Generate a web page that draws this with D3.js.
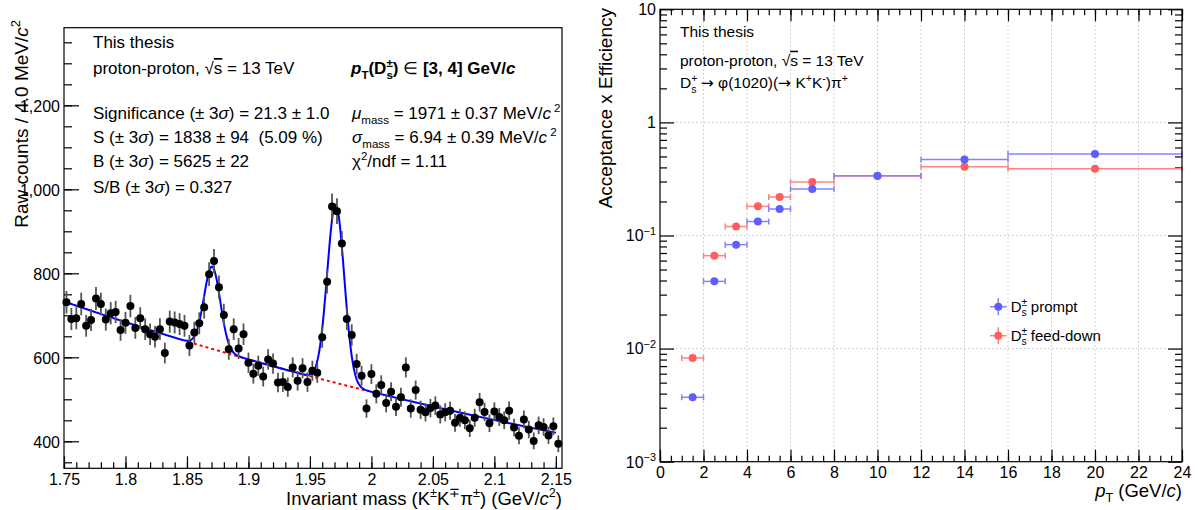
<!doctype html>
<meta charset='utf-8' />
<script src='https://cdn.jsdelivr.net/npm/d3@7'></script>
<style>
    body { margin: 0; background: #fff; }
    text { font-family: 'Liberation Sans', Arial, sans-serif; white-space: pre; }
</style>
<svg></svg>
<script>
    var width = 1198,
        height = 510,
        FONT = "'Liberation Sans', Arial, sans-serif",
        tickFont = 16

    // ---- left: invariant mass, 4 MeV bins starting at 1.75 GeV/c2
    var binLow = 1.75, binWidth = 0.004
    var counts = [
        731, 691, 693, 727, 675, 689, 740, 727, 690, 705,
        708, 665, 682, 722, 670, 693, 667, 655, 649, 667,
        610, 685, 683, 679, 675, 628, 659, 681, 719, 798,
        829, 767, 701, 619, 667, 621, 655, 587, 561, 580,
        554, 595, 585, 540, 541, 529, 576, 544, 574, 541,
        568, 563, 648, 780, 959, 948, 871, 691, 653, 584,
        556, 478, 560, 513, 534, 491, 518, 482, 505, 576,
        478, 522, 475, 469, 479, 485, 464, 469, 473, 444,
        456, 450, 431, 456, 493, 470, 443, 471, 458, 450,
        473, 433, 413, 452, 428, 401, 438, 434, 414, 436,
        394
    ]
    // fit: exponential background + two gaussians (D+ and Ds)
    var bkgPars = [733, -1.39]
    var peakPars = [[196, 1.8705, 0.0066], [424, 1.971, 0.00694]]
    var massTicks = [1.75, 1.8, 1.85, 1.9, 1.95, 2, 2.05, 2.1, 2.15]
    var countTicks = [400, 600, 800, 1000, 1200]

    // ---- right: acceptance x efficiency vs pT
    var ptEdges = [1, 2, 3, 4, 5, 6, 8, 12, 16, 24]
    var effPrompt = [0.00371, 0.0393, 0.083, 0.133, 0.1715, 0.258, 0.338, 0.471, 0.526]
    var effFeedDown = [0.00826, 0.0663, 0.120, 0.181, 0.219, 0.297, 0.336, 0.406, 0.390]
    var ptTicks = [0, 2, 4, 6, 8, 10, 12, 14, 16, 18, 20, 22, 24]
    var effDecades = [-3, -2, -1, 0, 1]

    var svg = d3.select('svg')
        .attr('width', width)
        .attr('height', height)
        .style('display', 'block')

    svg.append('rect').attr('width', width).attr('height', height).attr('fill', '#fff')

    // ROOT-ish latex: parts are strings or {t, sup, sub, it, back, over, ff}
    function rich(parent, x, y, size, parts, o) {
        o = o || {}
        var t = parent.append('text')
            .attr('x', x).attr('y', y)
            .attr('font-size', size)
            .attr('fill', '#000')
            .attr('text-anchor', o.anchor || 'start')
            .attr('font-weight', o.bold ? 'bold' : null)
        if (o.rotate) t.attr('transform', 'rotate(-90,' + x + ',' + y + ')')
        var cur = 0, prev = null
        parts.forEach(function (p) {
            if (typeof p === 'string') p = { t: p }
            var lvl = p.sup ? -0.42 * size : p.sub ? 0.28 * size : 0
            var s = t.append('tspan').attr('dy', lvl - cur).text(p.t)
            if (p.sup || p.sub) s.attr('font-size', size * 0.68)
            if (p.it) s.attr('font-style', 'italic')
            if (p.nb) s.attr('font-weight', 'normal')
            if (p.ff) s.style('font-family', p.ff)
            if (p.over) s.style('text-decoration', 'overline')
            if (p.back && prev) s.attr('dx', -prev.node().getComputedTextLength())
            cur = lvl
            prev = s
        })
        return t
    }

    function styleAxis(g) {
        g.select('.domain').remove()
        g.attr('font-family', FONT).attr('font-size', tickFont)
        g.selectAll('line').attr('stroke', '#000').attr('stroke-width', 1.2)
        g.selectAll('text').attr('fill', '#000')
    }

    // ================= left panel =================
    var L = { x0: 64, x1: 562, y0: 27.7, y1: 468.3 }
    var xL = d3.scaleLinear().domain([1.75, 2.155]).range([L.x0, L.x1])
    var yL = d3.scaleLinear().domain([335.7, 1384.8]).range([L.y1, L.y0])

    var left = svg.append('g')

    left.append('g').attr('transform', 'translate(' + L.x0 + ',0)')
        .call(d3.axisLeft(yL).tickValues(d3.range(350, 1385, 50)).tickSize(-8).tickFormat(''))
        .call(styleAxis)
    left.append('g').attr('transform', 'translate(' + L.x0 + ',0)')
        .call(d3.axisLeft(yL).tickValues(countTicks).tickSize(-15).tickPadding(4))
        .call(styleAxis)
        .selectAll('text').attr('dy', '0.36em')

    left.append('g').attr('transform', 'translate(0,' + L.y1 + ')')
        .call(d3.axisBottom(xL).tickValues(d3.range(175, 216).map(v => v / 100)).tickSize(-6).tickFormat(''))
        .call(styleAxis)
    left.append('g').attr('transform', 'translate(0,' + L.y1 + ')')
        .call(d3.axisBottom(xL).tickValues(massTicks).tickSize(-12).tickPadding(5).tickFormat(d => d))
        .call(styleAxis)

    // fit curves
    var fitX = d3.range(1.75, 2.1501, 0.0005)
    function bkg(m) { return bkgPars[0] * Math.exp(bkgPars[1] * (m - binLow)) }
    function total(m) {
        return bkg(m) + d3.sum(peakPars, p => p[0] * Math.exp(-0.5 * Math.pow((m - p[1]) / p[2], 2)))
    }
    var line = d3.line().x(d => xL(d[0])).y(d => yL(d[1]))

    left.append('path')
        .datum(fitX.filter(m => m >= 1.851 && m <= 1.997).map(m => [m, bkg(m)]))
        .attr('d', line)
        .attr('fill', 'none')
        .attr('stroke', '#ff0000')
        .attr('stroke-width', 2)
        .attr('stroke-dasharray', '3,3')

    left.append('path')
        .datum(fitX.map(m => [m, total(m)]))
        .attr('d', line)
        .attr('fill', 'none')
        .attr('stroke', '#0000ff')
        .attr('stroke-width', 2)

    // data points
    var pts = counts.map((c, i) => ({ m: binLow + (i + 0.5) * binWidth, c: c, e: Math.sqrt(c) }))
    left.selectAll('line.err')
        .data(pts)
        .enter()
        .append('line')
        .attr('class', 'err')
        .attr('x1', d => xL(d.m)).attr('x2', d => xL(d.m))
        .attr('y1', d => yL(d.c - d.e)).attr('y2', d => yL(d.c + d.e))
        .attr('stroke', '#555')
        .attr('stroke-width', 1.8)
    left.selectAll('circle')
        .data(pts)
        .enter()
        .append('circle')
        .attr('cx', d => xL(d.m))
        .attr('cy', d => yL(d.c))
        .attr('r', 4)
        .attr('fill', '#000')

    left.append('rect')
        .attr('x', L.x0).attr('y', L.y0)
        .attr('width', L.x1 - L.x0).attr('height', L.y1 - L.y0)
        .attr('fill', 'none').attr('stroke', '#000').attr('stroke-width', 1.2)

    // titles
    rich(left, 28, 20, 19, ['Raw counts / 4.0 MeV/', { t: 'c', it: 1 }, { t: '2', sup: 1 }], { anchor: 'end', rotate: 1 })
    rich(left, L.x1, 504.5, 18.5, ['Invariant mass (K', { t: '±', sup: 1 }, 'K', { t: '∓', sup: 1 }, 'π', { t: '±', sup: 1 }, ') (GeV/', { t: 'c', it: 1 }, { t: '2', sup: 1 }, ')'], { anchor: 'end' })

    // text block
    var fs = 17
    rich(left, 93, 48.3, fs, ['This thesis'])
    rich(left, 93, 74, fs, ['proton-proton, √', { t: 's', over: 1 }, ' = 13 TeV'])
    rich(left, 351, 74, fs, [{ t: 'p', it: 1 }, { t: 'T', sub: 1 }, '(D', { t: '±', sup: 1 }, { t: 's', sub: 1, back: 1 }, ') ', { t: '∈', nb: 1 }, ' [3, 4] GeV/', { t: 'c', it: 1 }], { bold: 1 })
    rich(left, 93, 119, fs, ['Significance (± 3', { t: 'σ', it: 1 }, ') = 21.3 ± 1.0'])
    rich(left, 93, 143.3, fs, ['S (± 3', { t: 'σ', it: 1 }, ') = 1838 ± 94  (5.09 %)'])
    rich(left, 93, 166.7, fs, ['B (± 3', { t: 'σ', it: 1 }, ') = 5625 ± 22'])
    rich(left, 93, 193.3, fs, ['S/B (± 3', { t: 'σ', it: 1 }, ') = 0.327'])
    rich(left, 352, 119, fs, [{ t: 'μ', it: 1 }, { t: 'mass', sub: 1 }, ' = 1971 ± 0.37 MeV/', { t: 'c', it: 1 }, { t: ' 2', sup: 1 }])
    rich(left, 352, 143.3, fs, [{ t: 'σ', it: 1 }, { t: 'mass', sub: 1 }, ' = 6.94 ± 0.39 MeV/', { t: 'c', it: 1 }, { t: ' 2', sup: 1 }])
    rich(left, 352, 166.7, fs, ['χ', { t: '2', sup: 1 }, '/ndf = 1.11'])

    // ================= right panel =================
    var R = { x0: 660, x1: 1182, y0: 9.3, y1: 461.7 }
    var xR = d3.scaleLinear().domain([0, 24]).range([R.x0, R.x1])
    var yR = d3.scaleLog().domain([1e-3, 10]).range([R.y1, R.y0])
    var decadeVals = effDecades.map(k => Math.pow(10, k))

    var right = svg.append('g')

    // grid
    right.selectAll('line.gx')
        .data(ptTicks.slice(1, -1))
        .enter()
        .append('line')
        .attr('x1', d => xR(d)).attr('x2', d => xR(d))
        .attr('y1', R.y0).attr('y2', R.y1)
        .attr('stroke', '#c4c4c4').attr('stroke-dasharray', '1.5,2.5')
    right.selectAll('line.gy')
        .data(decadeVals.slice(1, -1))
        .enter()
        .append('line')
        .attr('x1', R.x0).attr('x2', R.x1)
        .attr('y1', d => yR(d)).attr('y2', d => yR(d))
        .attr('stroke', '#c4c4c4').attr('stroke-dasharray', '1.5,2.5')

    var minorY = yR.ticks().filter(v => decadeVals.indexOf(v) < 0)
    var minorX = d3.range(0, 49).map(v => v / 2)

    right.append('g').attr('transform', 'translate(' + R.x0 + ',0)')
        .call(d3.axisLeft(yR).tickValues(minorY).tickSize(-7).tickFormat(''))
        .call(styleAxis)
    right.append('g').attr('transform', 'translate(' + R.x0 + ',0)')
        .call(d3.axisLeft(yR).tickValues(decadeVals).tickSize(-14).tickFormat(''))
        .call(styleAxis)
    right.append('g').attr('transform', 'translate(' + R.x1 + ',0)')
        .call(d3.axisRight(yR).tickValues(minorY).tickSize(-7).tickFormat(''))
        .call(styleAxis)
    right.append('g').attr('transform', 'translate(' + R.x1 + ',0)')
        .call(d3.axisRight(yR).tickValues(decadeVals).tickSize(-14).tickFormat(''))
        .call(styleAxis)

    right.append('g').attr('transform', 'translate(0,' + R.y1 + ')')
        .call(d3.axisBottom(xR).tickValues(minorX).tickSize(-6).tickFormat(''))
        .call(styleAxis)
    right.append('g').attr('transform', 'translate(0,' + R.y1 + ')')
        .call(d3.axisBottom(xR).tickValues(ptTicks).tickSize(-12).tickPadding(5))
        .call(styleAxis)
    right.append('g').attr('transform', 'translate(0,' + R.y0 + ')')
        .call(d3.axisTop(xR).tickValues(minorX).tickSize(-6).tickFormat(''))
        .call(styleAxis)
    right.append('g').attr('transform', 'translate(0,' + R.y0 + ')')
        .call(d3.axisTop(xR).tickValues(ptTicks).tickSize(-12).tickFormat(''))
        .call(styleAxis)

    // log tick labels 10^k
    effDecades.forEach(function (k) {
        var y = yR(Math.pow(10, k)) + 5.8
        var parts = k === 0 ? ['1'] : k === 1 ? ['10'] : ['10', { t: '−' + (-k), sup: 1 }]
        rich(right, R.x0 - 4, y, tickFont, parts, { anchor: 'end' })
    })

    // efficiency points
    var series = [
        { vals: effFeedDown, mark: '#ff5e5e', bar: '#ff8484' },
        { vals: effPrompt, mark: '#5e5eff', bar: '#8484ff' }
    ]
    series.forEach(function (s) {
        var d = s.vals.map((v, i) => ({ lo: ptEdges[i], hi: ptEdges[i + 1], v: v }))
        var g = right.append('g')
        g.selectAll('line.h').data(d).enter().append('line')
            .attr('x1', e => xR(e.lo)).attr('x2', e => xR(e.hi))
            .attr('y1', e => yR(e.v)).attr('y2', e => yR(e.v))
            .attr('stroke', s.bar).attr('stroke-width', 1.5)
        g.selectAll('line.c1').data(d).enter().append('line')
            .attr('x1', e => xR(e.lo)).attr('x2', e => xR(e.lo))
            .attr('y1', e => yR(e.v) - 3).attr('y2', e => yR(e.v) + 3)
            .attr('stroke', s.bar).attr('stroke-width', 1.5)
        g.selectAll('line.c2').data(d).enter().append('line')
            .attr('x1', e => xR(e.hi)).attr('x2', e => xR(e.hi))
            .attr('y1', e => yR(e.v) - 3).attr('y2', e => yR(e.v) + 3)
            .attr('stroke', s.bar).attr('stroke-width', 1.5)
        g.selectAll('circle').data(d).enter().append('circle')
            .attr('cx', e => xR((e.lo + e.hi) / 2))
            .attr('cy', e => yR(e.v))
            .attr('r', 4)
            .attr('fill', s.mark)
    })

    right.append('rect')
        .attr('x', R.x0).attr('y', R.y0)
        .attr('width', R.x1 - R.x0).attr('height', R.y1 - R.y0)
        .attr('fill', 'none').attr('stroke', '#000').attr('stroke-width', 1.2)

    // legend
    var legend = [
        { label: ' prompt', mark: '#5e5eff', bar: '#8484ff', y: 306.7 },
        { label: ' feed-down', mark: '#ff5e5e', bar: '#ff8484', y: 335.7 }
    ]
    legend.forEach(function (l) {
        right.append('line').attr('x1', 990).attr('x2', 1006.7).attr('y1', l.y).attr('y2', l.y)
            .attr('stroke', l.bar).attr('stroke-width', 1.5)
        right.append('line').attr('x1', 998.3).attr('x2', 998.3).attr('y1', l.y - 8.5).attr('y2', l.y + 8.5)
            .attr('stroke', l.bar).attr('stroke-width', 1.5)
        right.append('circle').attr('cx', 998.3).attr('cy', l.y).attr('r', 4).attr('fill', l.mark)
        rich(right, 1010.7, l.y + 5.3, 15, ['D', { t: '±', sup: 1 }, { t: 's', sub: 1, back: 1 }, l.label])
    })

    // titles and text
    rich(right, 612, 8, 19, ['Acceptance x Efficiency'], { anchor: 'end', rotate: 1 })
    rich(right, R.x1, 497, 18.5, [{ t: 'p', it: 1 }, { t: 'T', sub: 1 }, ' (GeV/', { t: 'c', it: 1 }, ')'], { anchor: 'end' })

    var fr = 15.5, arrowFont = "'DejaVu Sans', sans-serif"
    rich(right, 680, 37.3, fr, ['This thesis'])
    rich(right, 680, 65.7, fr, ['proton-proton, √', { t: 's', over: 1 }, ' = 13 TeV'])
    rich(right, 680, 88.3, fr, ['D', { t: '+', sup: 1 }, { t: 's', sub: 1, back: 1 }, ' ', { t: '→', ff: arrowFont }, ' φ(1020)(', { t: '→', ff: arrowFont }, ' K', { t: '+', sup: 1 }, 'K', { t: '-', sup: 1 }, ')π', { t: '+', sup: 1 }])
</script>
